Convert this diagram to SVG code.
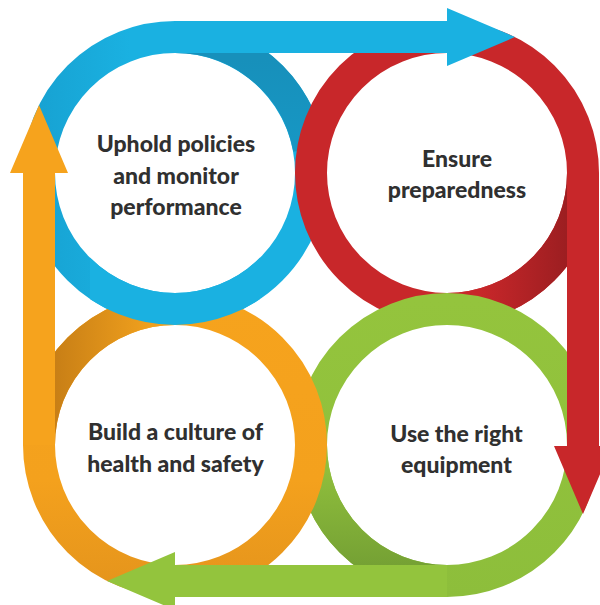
<svg xmlns="http://www.w3.org/2000/svg" width="600" height="605" viewBox="0 0 600 605">
<style>
.ring{fill:none;stroke-width:32}
.lbl{font-family:Lato,"Open Sans","Liberation Sans",sans-serif;font-weight:900;font-size:23px;fill:#303030;text-anchor:middle}
</style>
<defs>
<linearGradient id="gBlueRing" gradientUnits="userSpaceOnUse" x1="23" y1="0" x2="130" y2="0">
<stop offset="0" stop-color="#17A0D0"/><stop offset="1" stop-color="#1AB1E1"/>
</linearGradient>
<linearGradient id="gBlueSh" gradientUnits="userSpaceOnUse" x1="0" y1="60" x2="0" y2="150">
<stop offset="0" stop-color="#1790BB"/><stop offset="1" stop-color="#1797C4"/>
</linearGradient>
<linearGradient id="gRedSh" gradientUnits="userSpaceOnUse" x1="480" y1="0" x2="567" y2="0">
<stop offset="0" stop-color="#C8272A"/><stop offset="1" stop-color="#9C1E21"/>
</linearGradient>
<linearGradient id="gGreenRing" gradientUnits="userSpaceOnUse" x1="0" y1="300" x2="0" y2="600">
<stop offset="0" stop-color="#94C43D"/><stop offset="1" stop-color="#8DBE3B"/>
</linearGradient>
<linearGradient id="gGreenSh" gradientUnits="userSpaceOnUse" x1="0" y1="470" x2="0" y2="565">
<stop offset="0" stop-color="#8FBE3C"/><stop offset="1" stop-color="#75A134"/>
</linearGradient>
<linearGradient id="gOrangeRing" gradientUnits="userSpaceOnUse" x1="0" y1="300" x2="0" y2="600">
<stop offset="0" stop-color="#F6A31D"/><stop offset="0.6" stop-color="#F4A11D"/><stop offset="1" stop-color="#E3931C"/>
</linearGradient>
<linearGradient id="gOrangeSh" gradientUnits="userSpaceOnUse" x1="55" y1="0" x2="150" y2="0">
<stop offset="0" stop-color="#C87F16"/><stop offset="1" stop-color="#F0A01D"/>
</linearGradient>
<clipPath id="cBlueBottom"><rect x="90" y="255" width="170" height="90"/></clipPath>
</defs>

<g id="ring-blue">
<circle class="ring" cx="175" cy="173" r="136" stroke="url(#gBlueRing)"/>
<path class="ring" d="M175,37 A136,136 0 0 1 309,149" stroke="url(#gBlueSh)"/>
</g>
<g id="ring-red">
<circle class="ring" cx="447" cy="173" r="136" stroke="#C8272A"/>
<path class="ring" d="M583,173 A136,136 0 0 1 447,309" stroke="url(#gRedSh)"/>
</g>
<g id="ring-green">
<circle class="ring" cx="447" cy="445" r="136" stroke="url(#gGreenRing)"/>
<path class="ring" d="M447,581 A136,136 0 0 1 311,445" stroke="url(#gGreenSh)"/>
</g>
<g id="ring-orange">
<circle class="ring" cx="175" cy="445" r="136" stroke="url(#gOrangeRing)"/>
<path class="ring" d="M39,445 A136,136 0 0 1 175,309" stroke="url(#gOrangeSh)"/>
</g>
<g id="ring-blue-over">
<circle class="ring" cx="175" cy="173" r="136" stroke="#1AB1E1" clip-path="url(#cBlueBottom)"/>
</g>

<g id="connectors">
<path d="M175,21 H447 V8 L515,37 L447,66 V53 H175 Z" fill="#1AB1E1"/>
<path d="M567,173 V446 H554 L583,514 L612,446 H599 V173 Z" fill="#C8272A"/>
<path d="M447,597 H175 V610 L107,581 L175,552 V565 H447 Z" fill="#93C43D"/>
<path d="M55,445 V173 H68 L39,105 L10,173 H23 V445 Z" fill="#F6A31D"/>
</g>

<g id="node-uphold">
<text class="lbl" x="176" y="152">Uphold policies</text>
<text class="lbl" x="176" y="183.5">and monitor</text>
<text class="lbl" x="176" y="215">performance</text>
</g>
<g id="node-ensure">
<text class="lbl" x="457" y="166.5">Ensure</text>
<text class="lbl" x="457" y="198">preparedness</text>
</g>
<g id="node-culture">
<text class="lbl" x="175.5" y="440">Build a culture of</text>
<text class="lbl" x="175.5" y="471.5">health and safety</text>
</g>
<g id="node-equipment">
<text class="lbl" x="456.5" y="441.5">Use the right</text>
<text class="lbl" x="456.5" y="473">equipment</text>
</g>
</svg>
